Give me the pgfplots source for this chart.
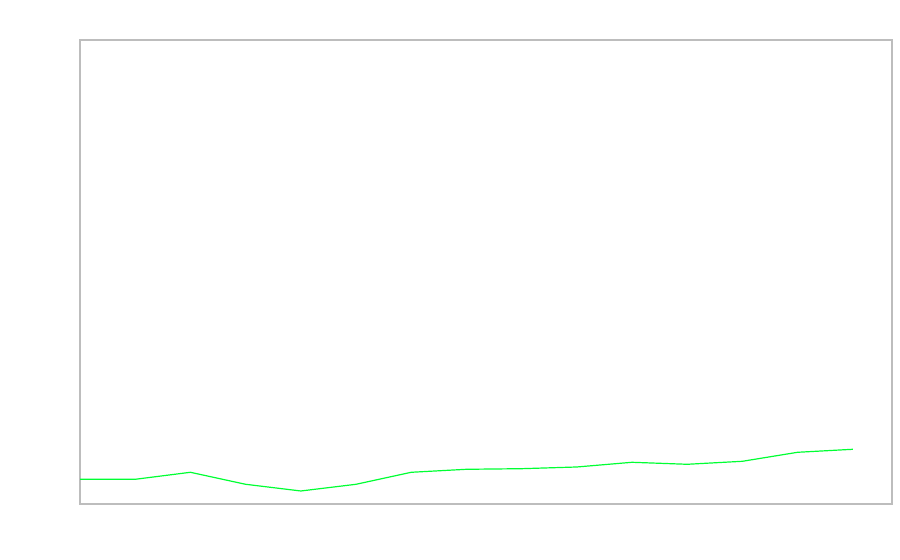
\documentclass[border=0pt]{standalone}
\usepackage{pgfplots}
\pgfplotsset{compat=1.18}
\definecolor{frame}{HTML}{BDBDBD}
\definecolor{lime}{HTML}{00FF33}
\begin{document}
\begin{tikzpicture}
\path[use as bounding box] (0,0) rectangle (450pt,280pt);
\begin{axis}[
  at={(40pt,28pt)}, anchor=south west,
  scale only axis, width=406pt, height=232pt,
  xmin=0, xmax=14.71, ymin=0, ymax=464,
  xtick=\empty, ytick=\empty,
  axis line style={frame, line width=0.6pt},
]
\addplot[lime, line width=0.6pt, mark=none] coordinates {
(0,24.7) (1,24.7) (2,31.7) (3,19.7) (4,13) (5,19.7) (6,31.7) (7,34.7)
(8,35.3) (9,37) (10,41.7) (11,39.7) (12,42.7) (13,51.7) (14,54.7)
};
\end{axis}
\end{tikzpicture}
\end{document}
